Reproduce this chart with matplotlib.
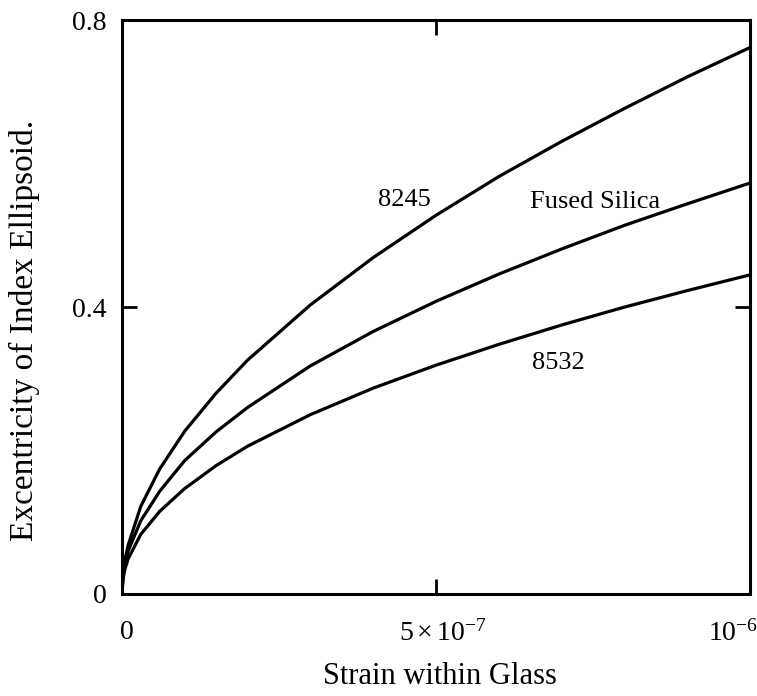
import matplotlib
matplotlib.use("Agg")
import matplotlib.pyplot as plt
import matplotlib.transforms as mtransforms

plt.rcParams["font.family"] = ["Liberation Serif", "DejaVu Serif"]
plt.rcParams["mathtext.fontset"] = "custom"
plt.rcParams["mathtext.rm"] = "Liberation Serif"
plt.rcParams["mathtext.it"] = "Liberation Serif:italic"

# strain in units of 1e-6
strain = [0, 0.002, 0.005, 0.01, 0.03, 0.06, 0.1, 0.15, 0.2, 0.3, 0.4, 0.5, 0.6, 0.7, 0.8, 0.9, 1.0]
ecc_8245 = [0, 0.030, 0.048, 0.068, 0.122, 0.174, 0.227, 0.280, 0.326, 0.403, 0.469, 0.528, 0.582, 0.631, 0.677, 0.721, 0.762]
ecc_silica = [0, 0.027, 0.043, 0.060, 0.102, 0.143, 0.186, 0.226, 0.260, 0.318, 0.366, 0.408, 0.446, 0.481, 0.514, 0.544, 0.573]
ecc_8532 = [0, 0.022, 0.035, 0.049, 0.083, 0.115, 0.147, 0.179, 0.206, 0.250, 0.287, 0.319, 0.348, 0.375, 0.400, 0.423, 0.445]

x_ticks = [0, 5e-7, 1e-6]
x_tick_labels = ["0", r"$5\times10^{-7}$", r"$10^{-6}$"]
y_ticks = [0, 0.4, 0.8]
y_tick_labels = ["0", "0.4", "0.8"]

series = [
    ("8245", ecc_8245, (0.450, 0.549)),
    ("Fused Silica", ecc_silica, (0.753, 0.546)),
    ("8532", ecc_8532, (0.695, 0.322)),
]

fig = plt.figure(figsize=(7.57, 6.96), dpi=100)
ax = fig.add_axes([0.161, 0.1466, 0.830, 0.8244])

xs = [v * 1e-6 for v in strain]
for name, ys, (lx, ly) in series:
    ax.plot(xs, ys, color="black", lw=2.3,
            solid_joinstyle="round", solid_capstyle="round")
    ax.text(lx * 1e-6, ly, name, ha="center", va="center", fontsize=19)

ax.set_xlim(0, 1e-6)
ax.set_ylim(0, 0.8)
ax.set_xticks(x_ticks)
ax.set_xticklabels(x_tick_labels, fontsize=20)
ax.set_yticks(y_ticks)
ax.set_yticklabels(y_tick_labels, fontsize=20)
ax.tick_params(direction="in", length=11, width=2.0, top=True, right=True,
               color="black")
ax.tick_params(axis="x", pad=19)
ax.tick_params(axis="y", pad=11)
for sp in ax.spines.values():
    sp.set_linewidth(2.2)

# nudge the x tick labels horizontally
shifts_px = [5, 7, -17]
for lbl, dx in zip(ax.get_xticklabels(), shifts_px):
    lbl.set_transform(lbl.get_transform() +
                      mtransforms.ScaledTranslation(dx / 100, 0, fig.dpi_scale_trans))

ax.set_xlabel("Strain within Glass", fontsize=22)
ax.xaxis.set_label_coords(0.506, -0.118)
ax.set_ylabel("Excentricity of Index Ellipsoid.", fontsize=24)
ax.yaxis.set_label_coords(-0.131, 0.46)

fig.savefig("out.png", dpi=100, facecolor="white")
